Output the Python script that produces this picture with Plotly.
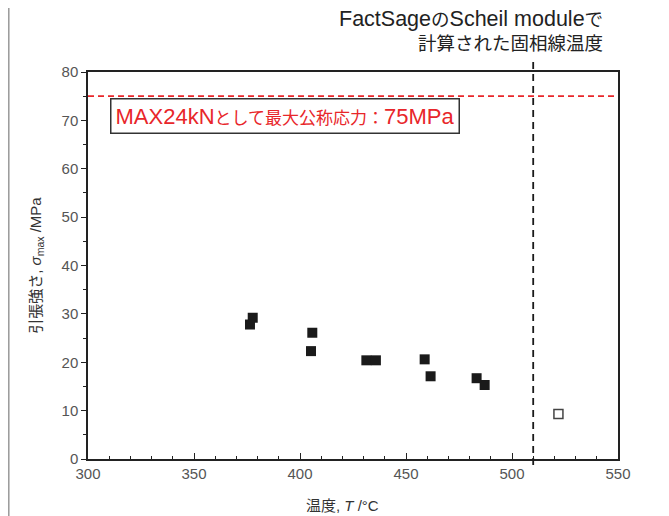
import plotly.graph_objects as go

temp_filled = [377.7, 376.4, 405.8, 405.2, 431.3, 435.8, 458.8, 461.6, 483.3, 487.1]
stress_filled = [29.2, 27.8, 26.1, 22.3, 20.4, 20.4, 20.6, 17.1, 16.7, 15.3]
temp_open = [521.9]
stress_open = [9.3]
solidus_temp = 510
max_stress = 75

FONT = "Liberation Sans, Noto Sans CJK JP"

# plot area in screenshot pixels: x 88..618, y 72..459 (figure offset ~8 px)
PX0, PW, PY1, PH = 88, 530, 459, 387


def px(xs):
    return (xs - PX0) / PW


def py(ys):
    return (PY1 - ys) / PH


def lat(t, s):
    return f'<span style="font-size:{s}px">{t}</span>'


fig = go.Figure()
fig.add_trace(go.Scatter(x=temp_filled, y=stress_filled, mode="markers",
                         marker=dict(symbol="square", size=10, color="#1a1a1a",
                                     line=dict(width=0)), showlegend=False))
fig.add_trace(go.Scatter(x=temp_open, y=stress_open, mode="markers",
                         marker=dict(symbol="square-open", size=9, color="#444444",
                                     line=dict(width=1.5)), showlegend=False))

# red dashed horizontal line
fig.add_shape(type="line", xref="paper", x0=0, x1=1, yref="y", y0=max_stress, y1=max_stress,
              line=dict(color="#e8262a", width=1.8, dash="6px,4px"))
# black dashed vertical line
fig.add_shape(type="line", xref="x", x0=solidus_temp, x1=solidus_temp, yref="paper",
              y0=py(465), y1=py(62), line=dict(color="#1a1a1a", width=1.8, dash="7px,5px"))
# outer frame side lines
fig.add_shape(type="line", xref="paper", x0=px(8.8), x1=px(8.8),
              yref="paper", y0=-0.3, y1=1.3, line=dict(color="#999999", width=1.5))
fig.add_shape(type="line", xref="paper", x0=px(663), x1=px(663),
              yref="paper", y0=-0.3, y1=1.3, line=dict(color="#999999", width=1.5))

box_text = (lat("MAX24kN", 22) + "として最大公称応力：" + lat("75MPa", 22))
fig.add_annotation(xref="paper", yref="paper", x=px(284.5), y=py(115.5),
                   xanchor="center", yanchor="middle",
                   text=box_text, showarrow=False,
                   font=dict(family=FONT, size=17, color="#e8262a"),
                   bordercolor="#333333", borderwidth=1.5, borderpad=4, bgcolor="white")
top_text = (lat("FactSage", 21.5) + "の" + lat("Scheil module", 21.5) + "で<br>"
            + "計算された固相線温度")
fig.add_annotation(xref="paper", yref="paper", x=px(605), y=py(5),
                   xanchor="right", yanchor="top", align="right",
                   text=top_text, showarrow=False,
                   font=dict(family=FONT, size=18.5, color="#222222"))
fig.add_annotation(xref="paper", yref="paper", x=px(342), y=py(505),
                   xanchor="center", yanchor="middle",
                   text="温度, <i>T</i> /°C", showarrow=False,
                   font=dict(family=FONT, size=15, color="#333"))

fig.update_xaxes(range=[300, 550], dtick=50, tick0=300, ticks="inside", ticklen=6,
                 tickcolor="#222", tickwidth=1,
                 minor=dict(dtick=10, ticks="inside", ticklen=3, tickcolor="#222"),
                 showline=True, linecolor="#222", linewidth=1.5, mirror=True,
                 showgrid=False, zeroline=False, automargin=False,
                 tickfont=dict(family=FONT, size=15, color="#555"))
fig.update_yaxes(range=[0, 80], dtick=10, ticks="outside", ticklen=5,
                 tickcolor="#222", tickwidth=1,
                 minor=dict(dtick=5, ticks="outside", ticklen=3, tickcolor="#222"),
                 showline=True, linecolor="#222", linewidth=1.5, mirror=True,
                 showgrid=False, zeroline=False, automargin=False,
                 tickfont=dict(family=FONT, size=15, color="#555"),
                 title=dict(text="引張強さ, <i>σ</i><sub>max</sub> /MPa",
                            font=dict(family=FONT, size=15, color="#333"), standoff=16))

fig.update_layout(width=669, height=516, margin=dict(l=80, r=59, t=64, b=65),
                  plot_bgcolor="white", paper_bgcolor="white",
                  font=dict(family=FONT))
fig.write_html("out.html")
